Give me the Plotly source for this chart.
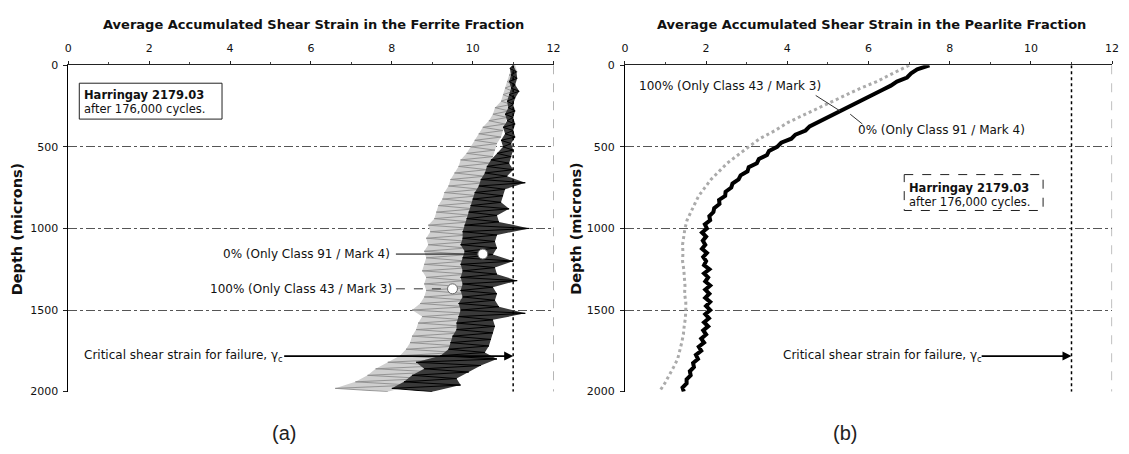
import plotly.graph_objects as go

# ---------------- data ----------------
# Ferrite fraction, depth 0..2000 microns every 20 microns
ferrite_depth = list(range(0, 2001, 20))
ferrite_100 = [  # 100% (Only Class 43 / Mark 3) - grey
    11.05, 10.95, 11.1, 10.9, 11.05, 10.85, 11.0, 10.8, 11.0, 10.75,
    10.95, 10.7, 10.95, 10.55, 10.9, 10.5, 10.85, 10.4, 10.8, 10.25,
    10.75, 10.15, 10.7, 10.05, 10.6, 9.95, 10.55, 9.85, 10.5, 9.7,
    10.45, 9.65, 10.35, 9.55, 10.3, 9.45, 10.3, 9.4, 10.2, 9.3,
    10.15, 9.25, 10.1, 9.15, 10.05, 9.1, 10.0, 9.05, 9.95, 8.9,
    10.0, 8.95, 9.9, 8.85, 9.95, 8.9, 9.85, 8.8, 9.9, 8.85,
    9.85, 8.8, 9.95, 8.75, 9.9, 8.85, 9.8, 8.8, 9.95, 8.85,
    9.85, 8.8, 9.9, 8.7, 9.85, 8.5, 9.9, 8.75, 9.8, 8.65,
    9.85, 8.6, 9.75, 8.5, 9.7, 8.45, 9.65, 8.35, 9.6, 8.2,
    9.5, 7.9, 9.35, 7.6, 9.1, 7.4, 8.85, 7.1, 8.5, 6.6,
    7.9,
]
ferrite_0 = [  # 0% (Only Class 91 / Mark 4) - black
    11.0, 10.92, 11.08, 10.95, 11.1, 10.9, 11.05, 10.95, 11.15, 10.9,
    11.05, 10.85, 11.0, 10.88, 11.05, 10.8, 11.0, 10.85, 11.05, 10.75,
    11.0, 10.8, 11.05, 10.7, 10.95, 10.75, 11.0, 10.6, 10.95, 10.45,
    10.9, 10.35, 11.0, 10.3, 10.85, 10.2, 11.3, 10.15, 10.8, 10.05,
    10.75, 10.0, 10.7, 9.95, 10.9, 9.9, 10.6, 9.85, 10.65, 9.8,
    11.4, 9.75, 10.6, 9.75, 10.55, 9.7, 10.6, 9.8, 10.5, 9.75,
    11.0, 9.7, 10.55, 9.75, 10.6, 9.7, 11.1, 9.75, 10.5, 9.7,
    10.6, 9.75, 10.55, 9.65, 10.65, 9.7, 11.3, 9.65, 10.5, 9.6,
    10.55, 9.6, 10.5, 9.5, 10.45, 9.45, 10.4, 9.4, 10.3, 9.2,
    10.6, 8.6, 10.2, 8.8, 9.9, 8.5, 9.6, 8.3, 9.7, 8.0,
    9.0,
]

# Pearlite fraction
pearlite_depth_0 = list(range(0, 2001, 25))
pearlite_0 = [  # 0% (Only Class 91 / Mark 4) - black
    7.5, 7.2, 7.05, 6.95, 6.7, 6.55, 6.35, 6.15, 5.95, 5.8,
    5.55, 5.4, 5.15, 4.95, 4.8, 4.55, 4.45, 4.2, 4.1, 3.85,
    3.75, 3.55, 3.5, 3.3, 3.25, 3.05, 3.02, 2.85, 2.8, 2.65,
    2.62, 2.48, 2.47, 2.32, 2.33, 2.2, 2.18, 2.08, 2.1, 1.97,
    2.02, 1.9, 2.0, 1.92, 1.98, 1.9, 2.02, 1.93, 2.0, 1.95,
    2.08, 1.95, 2.05, 1.98, 2.1, 1.98, 2.08, 1.98, 2.1, 2.0,
    2.1, 1.98, 2.07, 1.95, 2.05, 1.93, 2.0, 1.88, 1.95, 1.82,
    1.88, 1.75, 1.8, 1.68, 1.7, 1.6, 1.62, 1.52, 1.52, 1.42,
    1.45,
]
pearlite_depth_100 = list(range(0, 2001, 50))
pearlite_100 = [  # 100% (Only Class 43 / Mark 3) - grey
    7.0, 6.6, 6.2, 5.72, 5.3, 4.85, 4.45, 4.02, 3.7, 3.32,
    3.05, 2.78, 2.52, 2.32, 2.12, 1.97, 1.82, 1.72, 1.62, 1.53,
    1.48, 1.45, 1.42, 1.43, 1.42, 1.45, 1.46, 1.48, 1.47, 1.5,
    1.5, 1.49, 1.46, 1.44, 1.4, 1.35, 1.3, 1.2, 1.1, 0.98,
    0.85,
]

critical_strain = 11
x_ticks = [0, 2, 4, 6, 8, 10, 12]
y_ticks = [0, 500, 1000, 1500, 2000]

FONT = "DejaVu Sans"
W, H = 1129, 454


def band(xs, ys):
    # outline of the scatter cloud: right-hand swings going down, left-hand swings coming back
    hi_x, hi_y = xs[0::2], ys[0::2]
    lo_x, lo_y = xs[1::2], ys[1::2]
    return hi_x + lo_x[::-1], hi_y + lo_y[::-1]


fig = go.Figure()

gx, gy = band(ferrite_100, ferrite_depth)
fig.add_trace(go.Scatter(x=gx, y=gy, mode="lines", fill="toself", fillcolor="#cfcfcf",
                         line=dict(width=0), xaxis="x", yaxis="y", showlegend=False,
                         hoverinfo="skip"))
fig.add_trace(go.Scatter(x=ferrite_100, y=ferrite_depth, mode="lines",
                         line=dict(color="#8c8c8c", width=0.9), xaxis="x", yaxis="y",
                         showlegend=False))
bx, by = band(ferrite_0, ferrite_depth)
fig.add_trace(go.Scatter(x=bx, y=by, mode="lines", fill="toself", fillcolor="#3a3a3a",
                         line=dict(width=0), xaxis="x", yaxis="y", showlegend=False,
                         hoverinfo="skip"))
fig.add_trace(go.Scatter(x=ferrite_0, y=ferrite_depth, mode="lines",
                         line=dict(color="#000000", width=1), xaxis="x", yaxis="y",
                         showlegend=False))
fig.add_trace(go.Scatter(x=pearlite_100, y=pearlite_depth_100, mode="lines",
                         line=dict(color="#ababab", width=3, dash="dot"), xaxis="x2", yaxis="y2",
                         showlegend=False))
fig.add_trace(go.Scatter(x=pearlite_0, y=pearlite_depth_0, mode="lines",
                         line=dict(color="#000000", width=4), xaxis="x2", yaxis="y2",
                         showlegend=False))
# marker circles on ferrite panel
fig.add_trace(go.Scatter(x=[10.25, 9.5], y=[1157, 1370], mode="markers",
                         marker=dict(color="white", size=10, line=dict(color="#666", width=1)),
                         xaxis="x", yaxis="y", showlegend=False))

ydom = [1 - 397 / H, 1 - 61 / H]
xdom1 = [65 / W, 555 / W]
xdom2 = [627 / W, 1119 / W]

xcommon = dict(range=[0, 12], tickvals=x_ticks, side="top", showline=True, linecolor="#222",
               linewidth=1, ticks="outside", ticklen=3, tickcolor="#222", showgrid=False,
               zeroline=False, tickfont=dict(family=FONT, size=11, color="#111"),
               ticklabelstandoff=5,
               minor=dict(dtick=1, ticks="outside", ticklen=2, tickcolor="#444"))
ycommon = dict(range=[2000, 0], tickvals=y_ticks, showline=True, linecolor="#000", linewidth=1,
               ticks="outside", ticklen=4, tickcolor="#222", showgrid=True, gridcolor="#555",
               griddash="dashdot", gridwidth=1, zeroline=False, ticklabelstandoff=3,
               tickfont=dict(family=FONT, size=11, color="#111"))

fig.update_layout(
    width=W, height=H, margin=dict(l=0, r=0, t=0, b=0),
    paper_bgcolor="white", plot_bgcolor="white",
    xaxis=dict(domain=xdom1, anchor="y", **xcommon),
    yaxis=dict(domain=ydom, anchor="x", **ycommon),
    xaxis2=dict(domain=xdom2, anchor="y2", **xcommon),
    yaxis2=dict(domain=ydom, anchor="x2", **ycommon),
)

shapes = []
for xa, ya in (("x", "y"), ("x2", "y2")):
    # right border (dashed)
    shapes.append(dict(type="line", xref=xa, yref=ya, x0=12, x1=12, y0=0, y1=2000,
                       line=dict(color="#777", width=1, dash="dash")))
    # critical strain line (dotted)
    shapes.append(dict(type="line", xref=xa, yref=ya, x0=critical_strain, x1=critical_strain,
                       y0=0, y1=2000, line=dict(color="#000", width=1.5, dash="dot")))

# info boxes
shapes.append(dict(type="rect", xref="x", yref="y", x0=0.27, x1=3.8, y0=110, y1=330,
                   line=dict(color="#222", width=1), fillcolor="white"))
shapes.append(dict(type="rect", xref="x2", yref="y2", x0=6.88, x1=10.3, y0=670, y1=890,
                   line=dict(color="#222", width=1, dash="dash"), fillcolor="white"))
# leader lines, ferrite panel
shapes.append(dict(type="line", xref="x", yref="y", x0=8.1, x1=10.1, y0=1157, y1=1157,
                   line=dict(color="#000", width=1)))
shapes.append(dict(type="line", xref="x", yref="y", x0=8.1, x1=9.35, y0=1370, y1=1370,
                   line=dict(color="#333", width=1, dash="dash")))
# leader lines, pearlite panel
shapes.append(dict(type="line", xref="x2", yref="y2", x0=4.7, x1=5.3, y0=185, y1=280,
                   line=dict(color="#333", width=1)))
shapes.append(dict(type="line", xref="x2", yref="y2", x0=5.55, x1=5.85, y0=300, y1=360,
                   line=dict(color="#333", width=1)))
fig.update_layout(shapes=shapes)

lab = dict(family=FONT, size=12, color="#111")
boxf = dict(family=FONT, size=11.5, color="#111")
ann = []
# titles
ann.append(dict(text="<b>Average Accumulated Shear Strain in the Ferrite Fraction</b>",
                xref="paper", yref="paper", x=313 / W, y=1 - 19 / H, xanchor="center",
                yanchor="middle", showarrow=False, font=dict(family=FONT, size=13, color="#111")))
ann.append(dict(text="<b>Average Accumulated Shear Strain in the Pearlite Fraction</b>",
                xref="paper", yref="paper", x=876 / W, y=1 - 19 / H, xanchor="center",
                yanchor="middle", showarrow=False, font=dict(family=FONT, size=13, color="#111")))
for xp in (14, 578):
    ann.append(dict(text="<b>Depth (microns)</b>", xref="paper", yref="paper", x=xp / W,
                    y=1 - 229 / H, xanchor="center", yanchor="middle", textangle=-90,
                    showarrow=False, font=dict(family=FONT, size=14.5, color="#111")))
ann.append(dict(text="(a)", xref="paper", yref="paper", x=283 / W, y=1 - 440 / H,
                xanchor="center", yanchor="middle", showarrow=False,
                font=dict(family="Liberation Sans", size=20, color="#222")))
ann.append(dict(text="(b)", xref="paper", yref="paper", x=849 / W, y=1 - 440 / H,
                xanchor="center", yanchor="middle", showarrow=False,
                font=dict(family="Liberation Sans", size=20, color="#222")))

# ferrite panel labels
ann.append(dict(text="0% (Only Class 91 / Mark 4)", xref="x", yref="y", x=8.0, y=1157,
                xanchor="right", showarrow=False, font=lab))
ann.append(dict(text="100% (Only Class 43 / Mark 3)", xref="x", yref="y", x=8.05, y=1370,
                xanchor="right", showarrow=False, font=lab))
ann.append(dict(text="<b>Harringay 2179.03</b>", xref="x", yref="y", x=0.33, y=180,
                xanchor="left", showarrow=False, font=boxf))
ann.append(dict(text="after 176,000 cycles.", xref="x", yref="y", x=0.33, y=265,
                xanchor="left", showarrow=False, font=boxf))
ann.append(dict(text="Critical shear strain for failure, γ<sub>c</sub>", xref="x", yref="y",
                x=0.33, y=1782, xanchor="left", showarrow=False, font=lab))
ann.append(dict(text="", xref="x", yref="y", x=critical_strain, y=1782, axref="x", ayref="y",
                ax=5.3, ay=1782, showarrow=True, arrowhead=2, arrowsize=1, arrowwidth=1.8,
                arrowcolor="#000"))

# pearlite panel labels
ann.append(dict(text="100% (Only Class 43 / Mark 3)", xref="x2", yref="y2", x=0.3, y=130,
                xanchor="left", showarrow=False, font=lab))
ann.append(dict(text="0% (Only Class 91 / Mark 4)", xref="x2", yref="y2", x=5.7, y=397,
                xanchor="left", showarrow=False, font=lab))
ann.append(dict(text="<b>Harringay 2179.03</b>", xref="x2", yref="y2", x=6.95, y=755,
                xanchor="left", showarrow=False, font=boxf))
ann.append(dict(text="after 176,000 cycles.", xref="x2", yref="y2", x=6.95, y=840,
                xanchor="left", showarrow=False, font=boxf))
ann.append(dict(text="Critical shear strain for failure, γ<sub>c</sub>", xref="x2", yref="y2",
                x=3.85, y=1782, xanchor="left", showarrow=False, font=lab))
ann.append(dict(text="", xref="x2", yref="y2", x=critical_strain, y=1782, axref="x2", ayref="y2",
                ax=8.75, ay=1782, showarrow=True, arrowhead=2, arrowsize=1, arrowwidth=1.8,
                arrowcolor="#000"))

fig.update_layout(annotations=ann)
fig.write_html("out.html")
